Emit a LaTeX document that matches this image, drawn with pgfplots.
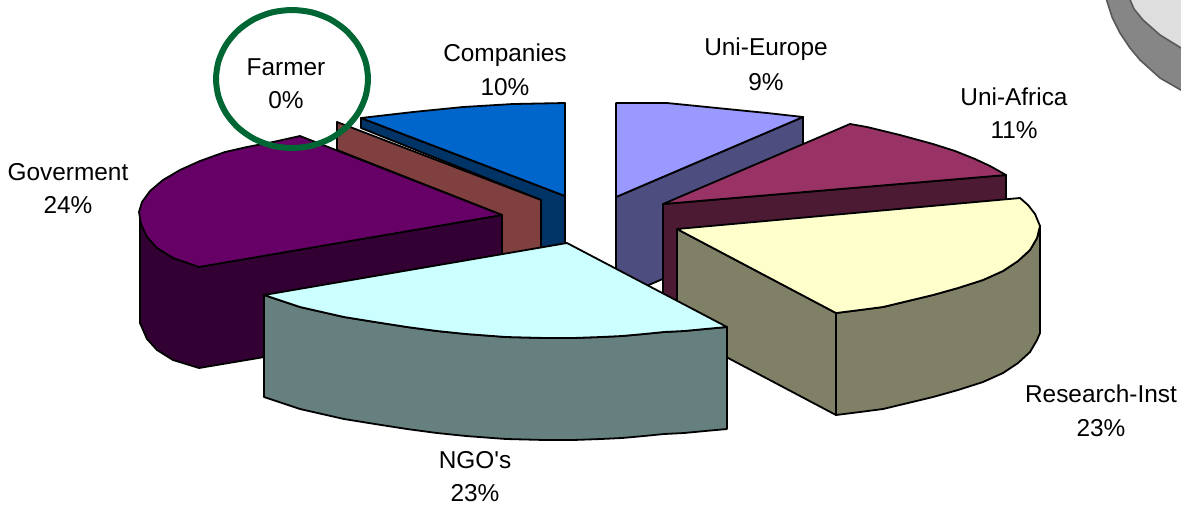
\documentclass[border=0pt]{standalone}
\usepackage{fontspec}
\setmainfont{Liberation Sans}
\usepackage{pgfplots}
\pgfplotsset{compat=1.18}
\definecolor{coTop}{HTML}{0066CC}
\definecolor{coSide}{HTML}{003366}
\definecolor{faSide}{HTML}{804040}
\definecolor{goTop}{HTML}{660066}
\definecolor{goSide}{HTML}{330033}
\definecolor{ngTop}{HTML}{CCFFFF}
\definecolor{ngSide}{HTML}{668080}
\definecolor{reTop}{HTML}{FFFFCC}
\definecolor{reSide}{HTML}{808066}
\definecolor{afTop}{HTML}{993366}
\definecolor{afSide}{HTML}{4D1A33}
\definecolor{euTop}{HTML}{9999FF}
\definecolor{euSide}{HTML}{4D4D80}
\definecolor{ring}{HTML}{006633}
\tikzset{
  slice/.style={draw=black, line width=0.9pt, line join=round},
  lab/.style={font=\fontsize{12.2}{14}\selectfont, text=black, inner sep=0pt},
}
\begin{document}
\begin{tikzpicture}
\begin{axis}[
  scale only axis, width=590.5pt, height=252.5pt,
  xmin=0, xmax=1181, ymin=0, ymax=505,
  y dir=reverse, axis lines=none, clip=true,
]
% keeps the page as large as the axis
\path (rel axis cs:0,0) rectangle (rel axis cs:1,1);

% disc in the corner
\addplot[fill=gray!95, draw=black!65, line width=0.8pt] coordinates {(1105,-5)(1112,17)(1120,33)(1130,48)(1140,60)(1160,78)(1186,93)(1186,-5)} -- cycle;
\addplot[fill=black!13, draw=black!65, line width=0.8pt] coordinates {(1128,-5)(1134,9)(1143,20)(1160,35)(1186,51)(1186,-5)} -- cycle;

% Uni-Europe
\addplot[slice, fill=euSide] coordinates {(616,197)(803,117)(803,219)(616,299)} -- cycle;
\addplot[slice, fill=euTop] coordinates {(616,103)(667,103)(717,108)(767,113)(803,117)(616,197)} -- cycle;

% Uni-Africa
\addplot[slice, fill=afSide] coordinates {(663,204)(1006,175)(1006,277)(663,306)} -- cycle;
\addplot[slice, fill=afTop] coordinates {(663,204)(850,124)(867,127)(900,135)(933,144)(955,151)(975,159)(990,166)(1006,175)} -- cycle;

% Companies
\addplot[slice, fill=coSide] coordinates {(361,118)(565,196)(565,245)(541,250)(541,200)(361,128)} -- cycle;
\addplot[slice, fill=coTop] coordinates {(565,103)(513,104)(463,107)(413,112)(361,118)(565,196)} -- cycle;

% Farmer, 0 % slice: only its cut face shows
\addplot[slice, fill=faSide] coordinates {(337,122)(541,200)(541,255)(502,262)(502,215)(337,150)} -- cycle;

% Goverment
\addplot[slice, fill=goSide] coordinates {(140,215)(199,266)(502,215)(502,317)(199,368)(173,360)(157,350)(147,339)(140,323)} -- cycle;
\addplot[slice, fill=goTop] coordinates {(502,215)(300,136)(273,142)(247,147)(225,152)(200,161)(180,170)(163,180)(150,191)(142,202)(139,212)(141,224)(147,237)(157,248)(173,258)(199,267)} -- cycle;

% Research-Inst
\addplot[slice, fill=reSide] coordinates {(677,229)(836,313)(836,415)(677,331)} -- cycle;
\addplot[slice, fill=reSide] coordinates {(836,313)(860,310)(883,307)(908,301)(933,295)(958,288)(983,280)(1003,271)(1018,261)(1030,250)(1037,238)(1040,226)(1040,333)(1037,340)(1030,352)(1018,363)(1003,373)(983,382)(958,390)(933,397)(908,403)(883,409)(860,412)(836,415)} -- cycle;
\addplot[slice, fill=reTop] coordinates {(677,229)(1020,198)(1028,205)(1035,214)(1040,226)(1037,238)(1030,250)(1018,261)(1003,271)(983,280)(958,288)(933,295)(908,301)(883,307)(860,310)(836,313)} -- cycle;

% NGO's
\addplot[slice, fill=ngSide] coordinates {(264,295)(300,307)(322,312)(344,317)(375,322)(407,327)(437,331)(466,334)(506,337)(545,338)(573,338)(601,337)(622,336)(644,334)(664,332)(684,331)(705,329)(727,327)(727,429)(705,431)(684,433)(664,434)(644,436)(622,438)(601,439)(573,440)(545,440)(506,439)(466,436)(437,433)(407,429)(375,424)(344,419)(322,414)(300,409)(264,397)} -- cycle;
\addplot[slice, fill=ngTop] coordinates {(567,243)(264,295)(300,307)(322,312)(344,317)(375,322)(407,327)(437,331)(466,334)(506,337)(545,338)(573,338)(601,337)(622,336)(644,334)(664,332)(684,331)(705,329)(727,327)} -- cycle;

% the circle round Farmer
\addplot[draw=ring, line width=3pt, smooth cycle] coordinates {(368,79)(365.4,96.9)(357.8,113.5)(345.7,127.8)(330,138.8)(311.7,145.7)(292,148)(272.3,145.7)(254,138.8)(238.3,127.8)(226.2,113.5)(218.6,96.9)(216,79)(218.6,61.1)(226.2,44.5)(238.3,30.2)(254,19.2)(272.3,12.3)(292,10)(311.7,12.3)(330,19.2)(345.7,30.2)(357.8,44.5)(365.4,61.1)};

\node[lab] at (axis cs:505,55) {Companies};
\node[lab] at (axis cs:505,87) {10\%};
\node[lab] at (axis cs:286,67) {Farmer};
\node[lab] at (axis cs:286,100) {0\%};
\node[lab] at (axis cs:766,49) {Uni-Europe};
\node[lab] at (axis cs:766,82) {9\%};
\node[lab] at (axis cs:1014,97) {Uni-Africa};
\node[lab] at (axis cs:1014,130) {11\%};
\node[lab] at (axis cs:68,172) {Goverment};
\node[lab] at (axis cs:68,205) {24\%};
\node[lab] at (axis cs:1101,394) {Research-Inst};
\node[lab] at (axis cs:1101,428) {23\%};
\node[lab] at (axis cs:475,460) {NGO\textquotesingle s};
\node[lab] at (axis cs:475,493) {23\%};
\end{axis}
\end{tikzpicture}
\end{document}
